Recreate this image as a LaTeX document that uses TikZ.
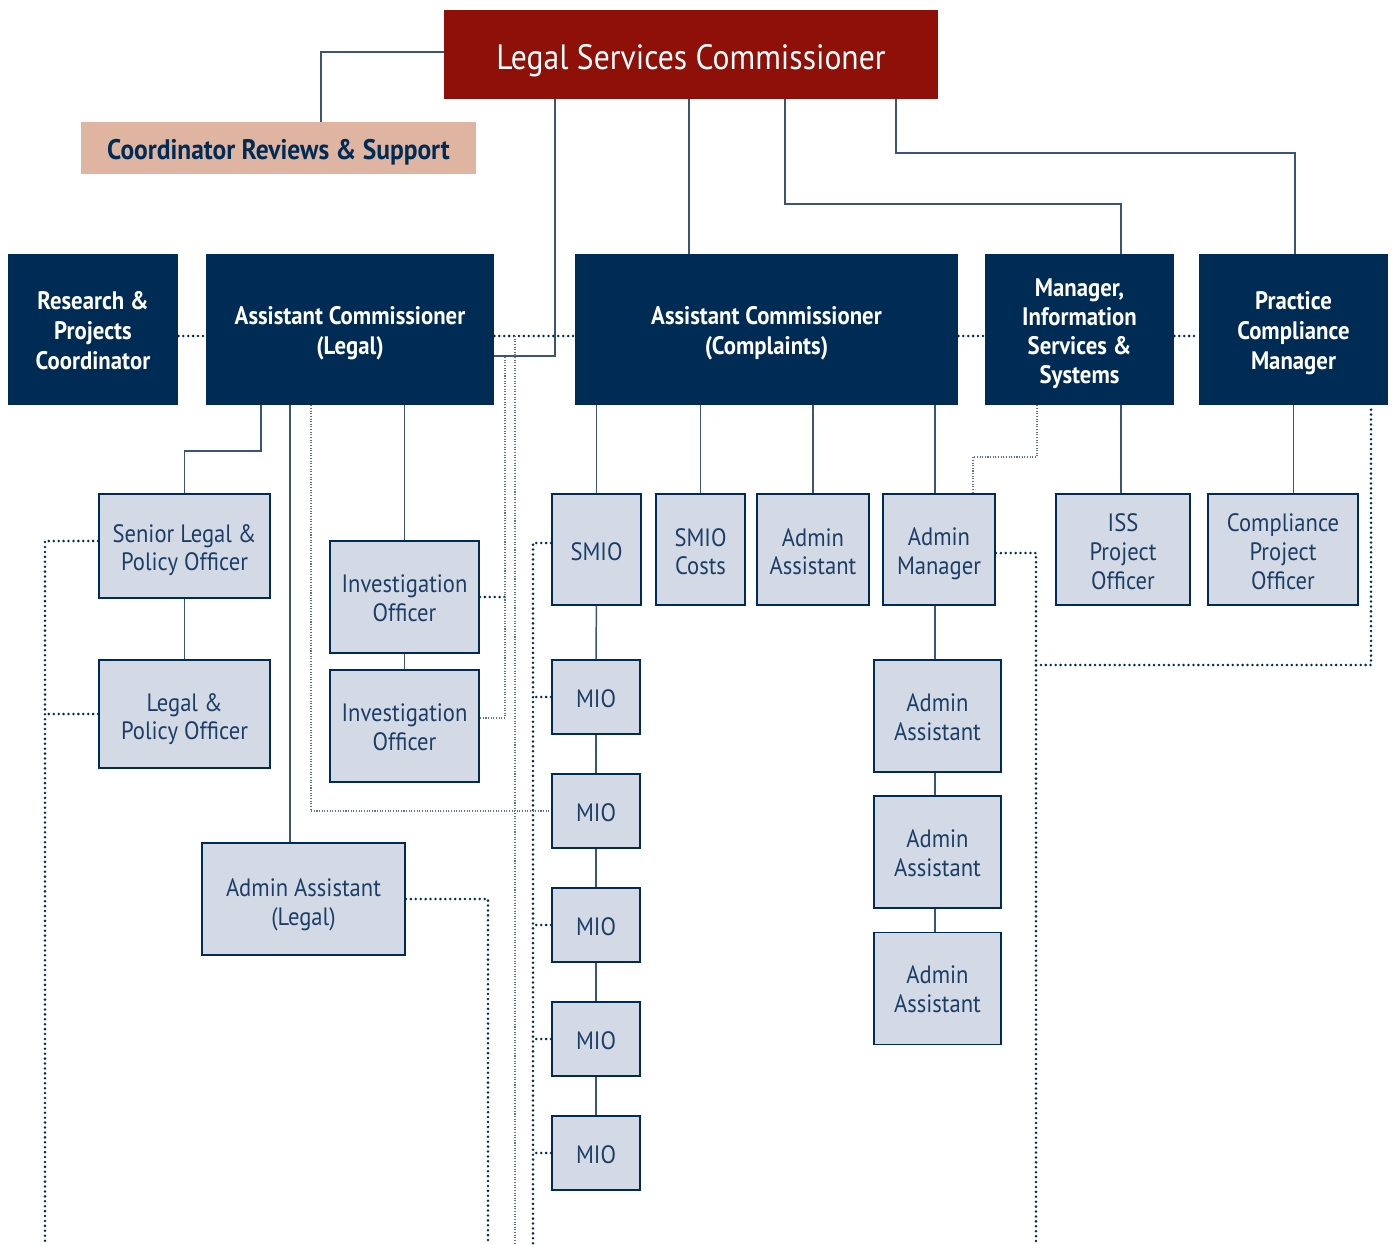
\documentclass[tikz,border=0pt]{standalone}
\usepackage{fontspec}
\setmainfont{PT Sans}[FakeStretch=0.9]
\usepackage{xcolor}
\usetikzlibrary{positioning}
\definecolor{lscRed}{RGB}{142,16,8}
\definecolor{peach}{RGB}{223,181,162}
\definecolor{navyBox}{RGB}{0,43,85}
\definecolor{lightBox}{RGB}{211,218,230}
\definecolor{lineBlue}{RGB}{55,86,122}
\definecolor{fineBlue}{RGB}{95,115,145}
\definecolor{textBlue}{RGB}{28,62,102}
\newcommand\lift[1]{\rule{0pt}{#1}}

\begin{document}
\begin{tikzpicture}[x=0.02cm,y=-0.02cm,
  every node/.style={inner sep=0pt, align=center},
  wh/.style 2 args={minimum width=#1*0.02cm, minimum height=#2*0.02cm},
  dark/.style={fill=navyBox, text=white, font=\bfseries\fontsize{14.4}{17}\selectfont},
  light/.style={fill=lightBox, draw=navyBox, line width=1.1pt, text=textBlue, font=\fontsize{14.3}{16.4}\selectfont},
  conn/.style={draw=lineBlue, line width=0.85pt},
  dots/.style={draw=navyBox, line width=1.6pt, line cap=round, dash pattern=on 0pt off 2.8pt},
  fine/.style={draw=fineBlue, line width=0.6pt, dash pattern=on 0.6pt off 0.9pt}]
\useasboundingbox (0,0) rectangle (1395,1244);

\node [wh={494}{89}, fill=lscRed, text=white, font=\fontsize{20}{24}\selectfont, text height=17.6pt, text depth=0pt] (LSC) at (691,54.5) {Legal Services Commissioner};
\node [wh={395}{52}, fill=peach, text=navyBox, font=\bfseries\fontsize{16.1}{18}\selectfont, text height=13.6pt, text depth=0pt] (Coord) at (278.5,148) {Coordinator Reviews \& Support};

\node [dark, wh={170}{151}] (Res) at (93,329.5) {\lift{11.6pt}Research \&\\Projects\\Coordinator};
\node [dark, wh={288}{151}] (ACL) at (350,329.5) {\lift{14.8pt}Assistant Commissioner\\(Legal)};
\node [dark, wh={383}{151}] (ACC) at (766.5,329.5) {\lift{14.8pt}Assistant Commissioner\\(Complaints)};
\node [dark, wh={189}{151}, font=\bfseries\fontsize{14.4}{16.4}\selectfont] (MISS) at (1079.5,329.5) {\lift{14.8pt}Manager,\\Information\\Services \&\\Systems};
\node [dark, wh={189}{151}] (PCM) at (1293.5,329.5) {\lift{14.8pt}Practice\\Compliance\\Manager};

\node [light, wh={171}{104}] (SLPO) at (184.5,546) {\lift{14.8pt}Senior Legal \&\\Policy Officer};
\node [light, wh={171}{108}] (LPO) at (184.5,714) {\lift{16pt}Legal \&\\Policy Officer};
\node [light, wh={149}{112}] (IO1) at (404.5,597) {\lift{11.4pt}Investigation\\Officer};
\node [light, wh={149}{112}] (IO2) at (404.5,726) {\lift{11.4pt}Investigation\\Officer};
\node [light, wh={203}{112}] (AAL) at (303.5,899) {\lift{17.1pt}Admin Assistant\\(Legal)};

\node [light, wh={89}{111}] (SMIO) at (596.5,549.5) {\lift{12.6pt}SMIO};
\node [light, wh={89}{111}] (SMIOC) at (700.5,549.5) {\lift{12.6pt}SMIO\\Costs};
\node [light, wh={112}{111}] (AA0) at (813,549.5) {\lift{12.6pt}Admin\\Assistant};
\node [light, wh={112}{111}] (AM) at (939,549.5) {\lift{14.8pt}Admin\\Manager};
\node [light, wh={134}{111}] (ISS) at (1123,549.5) {\lift{12.6pt}ISS\\Project\\Officer};
\node [light, wh={150}{111}] (CPO) at (1283,549.5) {\lift{12.6pt}Compliance\\Project\\Officer};

\foreach \i/\y in {1/697,2/811,3/925,4/1039,5/1153}
  \node [light, wh={88}{74}] (MIO\i) at (596,\y) {\lift{12.6pt}MIO};
\foreach \i/\y in {1/716,2/852,3/988.5}
  \node [light, wh={127}{112}] (AA\i) at (937.5,\y) {\lift{11.4pt}Admin\\Assistant};

\coordinate (botL) at (45,1244);
\coordinate (botA) at (488,1244);
\coordinate (botM) at (533,1244);
\coordinate (botR) at (1036,1244);
\coordinate (fineTop) at (505,357);
\coordinate (midTop) at (515,336);
\coordinate (midBot) at (515,1244);

\draw [conn] (LSC.west |- 0,52) -| (Coord.north -| 321,0);
\draw [conn] (LSC.south -| 555,0) |- (ACL.east |- 0,356);
\draw [conn] (LSC.south -| 689,0) -- (ACC.north -| 689,0);
\draw [conn] (LSC.south -| 785,0) |- (1121,204) -- (MISS.north -| 1121,0);
\draw [conn] (LSC.south -| 896,0) |- (1295,153) -- (PCM.north -| 1295,0);

\draw [conn] (ACL.south -| 261,0) |- (SLPO.north |- 0,451) -- (SLPO.north);
\draw [conn] (ACL.south -| 290,0) -- (AAL.north -| 290,0);
\draw [conn] (ACL.south -| IO1.north) -- (IO1);
\draw [conn] (ACC.south -| SMIO.north) -- (SMIO);
\draw [conn] (ACC.south -| SMIOC.north) -- (SMIOC);
\draw [conn] (ACC.south -| AA0.north) -- (AA0);
\draw [conn] (ACC.south -| 935,0) -- (AM.north -| 935,0);
\draw [conn] (AM.south -| 935,0) -- (AA1.north -| 935,0);
\draw [conn] (MISS.south -| 1121,0) -- (ISS.north -| 1121,0);
\draw [conn] (PCM.south) -- (CPO.north -| PCM.south);
\foreach \a/\b in {SLPO/LPO, IO1/IO2, SMIO/MIO1, MIO1/MIO2, MIO2/MIO3, MIO3/MIO4, MIO4/MIO5}
  \draw [conn] (\a) -- (\b);
\foreach \a/\b in {AA1/AA2, AA2/AA3}
  \draw [conn] (\a.south -| 935,0) -- (\b.north -| 935,0);

\foreach \a/\b in {Res/ACL, ACL/ACC, ACC/MISS, MISS/PCM}
  \draw [dots] (\a.east |- 0,336) -- (\b.west |- 0,336);
\draw [dots] (SLPO.west |- 0,541) -| (botL);
\draw [dots] (LPO.west) -- (botL |- LPO.west);
\draw [dots] (IO1.east) -- (IO1.east -| fineTop);
\draw [dots] (SMIO.west |- 0,543) -| (botM);
\foreach \m in {1,3,4,5}
  \draw [dots] (MIO\m.west) -- (botM |- MIO\m.west);
\draw [dots] (AAL.east) -| (botA);
\draw [dots] (AM.east |- 0,553) -| (botR);
\draw [dots] (botR |- 0,665) -| (PCM.south -| 1371,0);

\draw [fine] (fineTop) |- (IO2.east |- 0,718);
\draw [fine] (midTop) -- (midBot);
\draw [fine] (ACL.south -| 311,0) |- (MIO2.west);
\draw [fine] (MISS.south -| 1037,0) |- (973,457) -- (AM.north -| 973,0);
\end{tikzpicture}
\end{document}
